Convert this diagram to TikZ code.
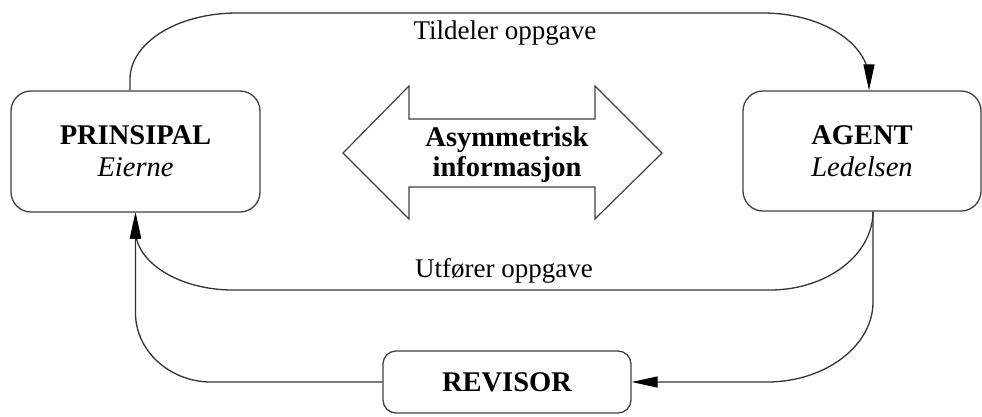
\documentclass[tikz,border=0pt]{standalone}
\usepackage{fontspec}
\setmainfont{Liberation Serif}
\usetikzlibrary{arrows.meta}
\begin{document}
\begin{tikzpicture}[x=1pt,y=-1pt,
  box/.style={draw=black!75,line width=1.3pt,rounded corners=20pt,align=center,inner sep=0pt,font=\fontsize{28.5}{32}\selectfont\bfseries},
  conn/.style={draw=black!80,line width=1.3pt,-{Triangle[length=26pt,width=11pt,color=black]}},
  lbl/.style={font=\fontsize{27}{30}\selectfont,anchor=base,inner sep=0pt}]
\useasboundingbox (0,0) rectangle (982,416);
\node[box,minimum width=249pt,minimum height=121pt] (p) at (135.5,151.5) {PRINSIPAL\\{\mdseries\itshape Eierne}};
\node[box,minimum width=238pt,minimum height=120pt] (a) at (862,151) {AGENT\\{\mdseries\itshape Ledelsen}};
\node[box,rounded corners=13pt,minimum width=248pt,minimum height=62pt] (r) at (507,382) {REVISOR};
\draw[black!75,line width=1.2pt] (343,153) -- (409,86) -- (409,119) -- (595,119) -- (595,86) -- (662,153) -- (595,219) -- (595,187) -- (409,187) -- (409,219) -- cycle;
\node[align=center,inner sep=0pt,font=\fontsize{28.5}{30}\selectfont\bfseries] (ai) at (507,155) {Asymmetrisk\\informasjon};
\coordinate (t1) at ([xshift=-5.5pt]p.north);
\draw[conn] (t1) -- ++(0,-11) .. controls +(0,-37) and +(-59,0) .. (237,13) -- (763,13) .. controls +(58,0) and +(0,-37) .. (869,80) -- ([xshift=7pt]a.north);
\draw[conn] ([xshift=11pt]a.south) .. controls +(0,43) and +(57,0) .. (770,290) -- (233,290) .. controls +(-53,0) and +(0,33) .. (135.5,230) -- (p.south);
\draw[conn] ([xshift=11pt]a.south) -- (873,302) .. controls +(0,44) and +(58,0) .. (767,382) -- (r.east);
\draw[conn] (r.west) -- (211,382) .. controls +(-41,0) and +(0,38) .. (135.5,313) -- (p.south);
\node[lbl] (tl) at (505,39) {Tildeler oppgave};
\node[lbl] (ul) at (504,277) {Utfører oppgave};
\end{tikzpicture}
\end{document}
